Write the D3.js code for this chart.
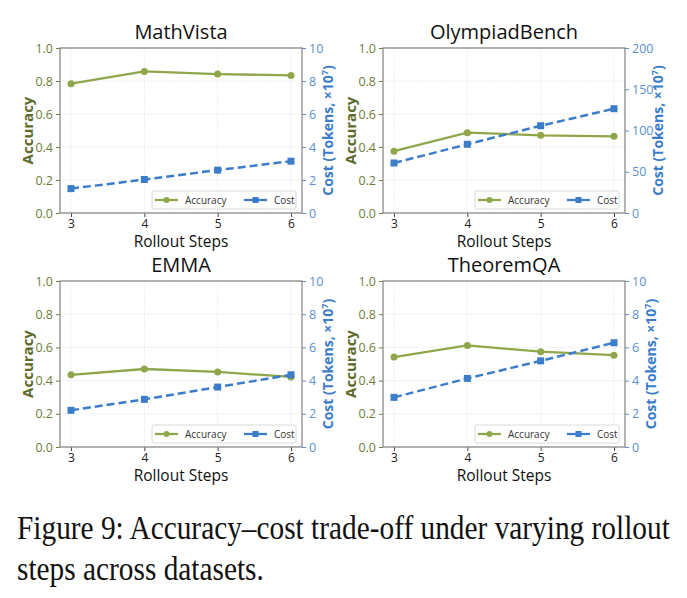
<!DOCTYPE html>
<html>
<head>
<meta charset="utf-8">
<script src="https://cdn.jsdelivr.net/npm/d3@7"></script>
<style>
  html, body { margin: 0; padding: 0; background: #fff; }
  svg { display: block; }
</style>
</head>
<body>
<div id="chart"></div>
<script>
// Données
const steps = [3, 4, 5, 6];
const datasets = ["MathVista", "OlympiadBench", "EMMA", "TheoremQA"];
const accuracy = [
    [0.784, 0.858, 0.842, 0.834],
    [0.375, 0.487, 0.471, 0.465],
    [0.435, 0.470, 0.452, 0.422],
    [0.542, 0.612, 0.574, 0.553]
];
const cost = [
    [1.48, 2.03, 2.60, 3.14],
    [60.6, 83.3, 105.8, 126.4],
    [2.21, 2.87, 3.61, 4.35],
    [2.99, 4.13, 5.19, 6.28]
];
const costMax = [10, 200, 10, 10];
const costTicks = [
    [0, 2, 4, 6, 8, 10],
    [0, 50, 100, 150, 200],
    [0, 2, 4, 6, 8, 10],
    [0, 2, 4, 6, 8, 10]
];
const accTicks = [0, 0.2, 0.4, 0.6, 0.8, 1.0];
const seriesNames = ["Accuracy", "Cost"];
const caption = [
    "Figure 9: Accuracy\u2013cost trade-off under varying rollout",
    "steps across datasets."
];

(function() {
    const W = 687, H = 598;
    const green = "#8fa64b", greenTick = "#6f7d3c", greenLabel = "#5d6c2c";
    const blue = "#3b7dc9", blueTick = "#5b8fd2";
    const spine = "#8a8a8a";
    const font = "'Open Sans', 'Noto Sans', sans-serif";

    // Rectangles des panneaux
    const panels = [
        { x0: 60, x1: 302, y0: 48, y1: 213 },
        { x0: 383, x1: 625, y0: 48, y1: 213 },
        { x0: 60, x1: 302, y0: 281, y1: 447 },
        { x0: 383, x1: 625, y0: 281, y1: 447 }
    ];

    const svg = d3.select("#chart").append("svg")
        .attr("width", W).attr("height", H)
        .style("font-family", font);

    panels.forEach((p, i) => {
        const g = svg.append("g");
        const x = d3.scaleLinear().domain([2.85, 6.15]).range([p.x0, p.x1]);
        const yA = d3.scaleLinear().domain([0, 1]).range([p.y1, p.y0]);
        const yC = d3.scaleLinear().domain([0, costMax[i]]).range([p.y1, p.y0]);

        // Grille
        g.append("g").selectAll("line").data(accTicks).join("line")
            .attr("x1", p.x0).attr("x2", p.x1)
            .attr("y1", d => yA(d)).attr("y2", d => yA(d))
            .attr("stroke", "#e8e8e8").attr("stroke-width", 0.8)
            .attr("stroke-dasharray", "2,1");
        g.append("g").selectAll("line").data(steps).join("line")
            .attr("x1", d => x(d)).attr("x2", d => x(d))
            .attr("y1", p.y0).attr("y2", p.y1)
            .attr("stroke", "#e8e8e8").attr("stroke-width", 0.8)
            .attr("stroke-dasharray", "2,1");

        // Axes
        const axX = g.append("g").attr("transform", `translate(0,${p.y1})`)
            .call(d3.axisBottom(x).tickValues(steps).tickSize(4).tickPadding(2).tickFormat(d3.format("d")));
        axX.selectAll("text").attr("fill", "#222").style("font-size", "12px").style("font-family", font);
        axX.selectAll("line").attr("stroke", "#444");
        axX.select(".domain").remove();

        const axL = g.append("g").attr("transform", `translate(${p.x0},0)`)
            .call(d3.axisLeft(yA).tickValues(accTicks).tickSize(4).tickPadding(3).tickFormat(d3.format(".1f")));
        axL.selectAll("text").attr("fill", greenTick).style("font-size", "12.5px").style("font-family", font);
        axL.selectAll("line").attr("stroke", greenTick);
        axL.select(".domain").remove();

        const axR = g.append("g").attr("transform", `translate(${p.x1},0)`)
            .call(d3.axisRight(yC).tickValues(costTicks[i]).tickSize(4).tickPadding(3).tickFormat(d3.format("d")));
        axR.selectAll("text").attr("fill", blueTick).style("font-size", "12.5px").style("font-family", font);
        axR.selectAll("line").attr("stroke", blueTick);
        axR.select(".domain").remove();

        // Cadre
        g.append("rect")
            .attr("x", p.x0).attr("y", p.y0)
            .attr("width", p.x1 - p.x0).attr("height", p.y1 - p.y0)
            .attr("fill", "none").attr("stroke", spine).attr("stroke-width", 1.3);

        // Courbe Accuracy
        const accData = steps.map((s, k) => [s, accuracy[i][k]]);
        g.append("path").datum(accData)
            .attr("d", d3.line().x(d => x(d[0])).y(d => yA(d[1])))
            .attr("fill", "none").attr("stroke", green).attr("stroke-width", 2.3);
        g.append("g").selectAll("circle").data(accData).join("circle")
            .attr("cx", d => x(d[0])).attr("cy", d => yA(d[1])).attr("r", 3.5)
            .attr("fill", green);

        // Courbe Cost
        const costData = steps.map((s, k) => [s, cost[i][k]]);
        g.append("path").datum(costData)
            .attr("d", d3.line().x(d => x(d[0])).y(d => yC(d[1])))
            .attr("fill", "none").attr("stroke", blue).attr("stroke-width", 2.5)
            .attr("stroke-dasharray", "8,4");
        g.append("g").selectAll("rect").data(costData).join("rect")
            .attr("x", d => x(d[0]) - 3.5).attr("y", d => yC(d[1]) - 3.5)
            .attr("width", 7).attr("height", 7)
            .attr("fill", blue);

        // Titres
        g.append("text")
            .attr("x", (p.x0 + p.x1) / 2).attr("y", p.y0 - 9)
            .attr("text-anchor", "middle")
            .style("font-size", "20px").attr("fill", "#111")
            .text(datasets[i]);
        g.append("text")
            .attr("x", (p.x0 + p.x1) / 2).attr("y", p.y1 + 34)
            .attr("text-anchor", "middle")
            .style("font-size", "15.5px").attr("fill", "#111")
            .text("Rollout Steps");

        const cy = (p.y0 + p.y1) / 2;
        g.append("text")
            .attr("transform", `translate(${p.x0 - 27},${cy}) rotate(-90)`)
            .attr("text-anchor", "middle")
            .style("font-size", "15px").style("font-weight", "bold")
            .attr("fill", greenLabel)
            .text("Accuracy");

        const rOff = costMax[i] >= 100 ? 38 : 31;
        const rl = g.append("text")
            .attr("transform", `translate(${p.x1 + rOff},${cy}) rotate(-90)`)
            .attr("text-anchor", "middle")
            .style("font-size", "14px").style("font-weight", "bold")
            .attr("fill", blue);
        rl.append("tspan").text("Cost (Tokens, \u00d710");
        rl.append("tspan").attr("dy", -5).style("font-size", "9px").text("7");
        rl.append("tspan").attr("dy", 5).text(")");

        // Légende
        const lg = g.append("g").attr("transform", `translate(${p.x1 - 150},${p.y1 - 22})`);
        lg.append("rect").attr("width", 144).attr("height", 18).attr("rx", 2)
            .attr("fill", "#fff").attr("fill-opacity", 0.85)
            .attr("stroke", "#d0d0d0").attr("stroke-width", 0.8);
        const items = [
            { name: seriesNames[0], color: green, x: 3 },
            { name: seriesNames[1], color: blue, x: 92 }
        ];
        items.forEach((it, k) => {
            lg.append("line").attr("x1", it.x).attr("x2", it.x + 23)
                .attr("y1", 9).attr("y2", 9)
                .attr("stroke", it.color).attr("stroke-width", 2.3);
            if (k === 0) {
                lg.append("circle").attr("cx", it.x + 11.5).attr("cy", 9).attr("r", 3).attr("fill", it.color);
            } else {
                lg.append("rect").attr("x", it.x + 8.5).attr("y", 6).attr("width", 6).attr("height", 6).attr("fill", it.color);
            }
            lg.append("text").attr("x", it.x + 30).attr("y", 12.5)
                .style("font-size", "10px").attr("fill", "#333")
                .text(it.name);
        });
    });

    // Légende de la figure
    const capG = svg.append("g").attr("transform", "translate(17,0)");
    const lines = capG.selectAll("text").data(caption).join("text")
        .attr("x", 0).attr("y", (d, k) => 539 + k * 41)
        .style("font-family", "'Liberation Serif', 'Times New Roman', serif")
        .style("font-size", "34px").attr("fill", "#111")
        .text(d => d);
    const w0 = lines.nodes()[0].getComputedTextLength();
    const sx = 653 / w0;
    lines.attr("transform", `scale(${sx},1)`);
})();
</script>
</body>
</html>
